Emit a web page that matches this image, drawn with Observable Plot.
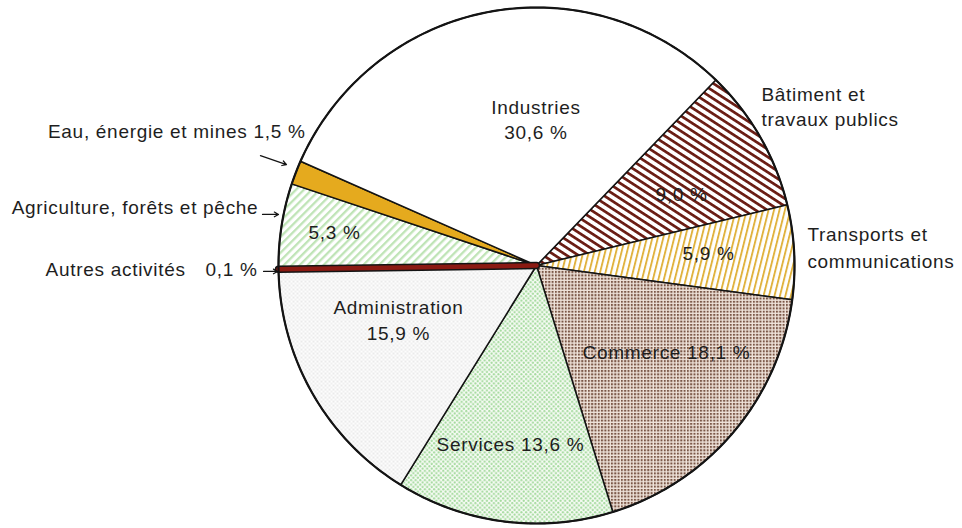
<!DOCTYPE html>
<html><head><meta charset="utf-8">
<script src="https://cdn.jsdelivr.net/npm/d3@7"></script>
<script src="https://cdn.jsdelivr.net/npm/@observablehq/plot@0.6"></script>
<style>
body{margin:0;background:#fff}
svg{display:block}
svg text{letter-spacing:0.7px}
</style>
</head><body><div id="chart"></div>
<script>
// ---- data ----
const sectors = ["Bâtiment et travaux publics","Transports et communications","Commerce","Services","Administration","Autres activités","Agriculture, forêts et pêche","Eau, énergie et mines","Industries"];
const shares = [9.0, 5.9, 18.1, 13.6, 15.9, 0.1, 5.3, 1.5, 30.6];
// ---- styles (fills per sector) ----
const fills = ["url(#p-bat)","url(#p-tra)","url(#p-com)","url(#p-ser)","url(#p-adm)","#8b1a12","url(#p-agr)","#e5aa1e","#ffffff"];
const startAngle = 44; // degrees clockwise from north

// ---- label layout (pie-radius units) ----
const labels = [
  {text:"Industries", x:-0.002, y:0.612, anchor:"middle"},
  {text:"30,6 %", x:-0.002, y:0.512, anchor:"middle"},
  {text:"Bâtiment et", x:0.872, y:0.663, anchor:"start"},
  {text:"travaux publics", x:0.872, y:0.566, anchor:"start"},
  {text:"Transports et", x:1.050, y:0.120, anchor:"start"},
  {text:"communications", x:1.050, y:0.012, anchor:"start"},
  {text:"9,0 %", x:0.562, y:0.275, anchor:"middle"},
  {text:"5,9 %", x:0.667, y:0.043, anchor:"middle"},
  {text:"Commerce 18,1 %", x:0.504, y:-0.337, anchor:"middle"},
  {text:"Services 13,6 %", x:-0.101, y:-0.694, anchor:"middle"},
  {text:"Administration", x:-0.535, y:-0.163, anchor:"middle"},
  {text:"15,9 %", x:-0.535, y:-0.267, anchor:"middle"},
  {text:"5,3 %", x:-0.783, y:0.128, anchor:"middle"},
  {text:"Eau, énergie et mines 1,5 %", x:-0.895, y:0.516, anchor:"end"},
  {text:"Agriculture, forêts et pêche", x:-1.078, y:0.225, anchor:"end"},
  {text:"Autres activités", x:-1.360, y:-0.016, anchor:"end"},
  {text:"0,1 %", x:-1.081, y:-0.016, anchor:"end"}
];
const pointers = [
  {x1:-1.070, y1:0.426, x2:-0.969, y2:0.391},
  {x1:-1.062, y1:0.198, x2:-1.000, y2:0.198},
  {x1:-1.058, y1:-0.023, x2:-1.004, y2:-0.023}
];

// ---- geometry from data ----
const total = d3.sum(shares);
const rad = a => a * Math.PI / 180;
let acc = startAngle;
const slices = shares.map((v, i) => {
  const a0 = acc, a1 = acc + v / total * 360; acc = a1;
  const pts = [{x:0, y:0}];
  const n = Math.max(2, Math.ceil((a1 - a0) / 0.5));
  for (let k = 0; k <= n; k++) {
    const a = rad(a0 + (a1 - a0) * k / n);
    pts.push({x: Math.sin(a), y: Math.cos(a)});
  }
  return {name: sectors[i], fill: fills[i], a0, a1, pts};
});
const circle = d3.range(0, 361, 1).map(a => ({x: Math.sin(rad(a)), y: Math.cos(rad(a))}));
const autres = slices[5];
const midA = rad((autres.a0 + autres.a1) / 2);
const autresRay = [{x:0, y:0}, {x: Math.sin(midA), y: Math.cos(midA)}];

const marks = [];
slices.forEach(s => {
  marks.push(Plot.line(s.pts, {x:"x", y:"y", curve:"linear-closed", fill:s.fill, stroke:"#141414", strokeWidth:1.5, strokeLinejoin:"round"}));
});
marks.push(Plot.line(autresRay, {x:"x", y:"y", stroke:"#141414", strokeWidth:7.5}));
marks.push(Plot.line(autresRay, {x:"x", y:"y", stroke:"#8b1a12", strokeWidth:4.5}));
marks.push(Plot.line(circle, {x:"x", y:"y", stroke:"#141414", strokeWidth:2.2, fill:"none"}));
marks.push(Plot.arrow(pointers, {x1:"x1", y1:"y1", x2:"x2", y2:"y2", stroke:"#141414", strokeWidth:1.2, headLength:6}));
["start","middle","end"].forEach(anchor => {
  marks.push(Plot.text(labels.filter(d => d.anchor === anchor), {x:"x", y:"y", text:"text", textAnchor:anchor, fontSize:19, fill:"#1e1e1e"}));
});

const svg = Plot.plot({
  width: 962, height: 528,
  marginLeft: 278, marginRight: 168, marginTop: 7, marginBottom: 5,
  x: {domain: [-1, 1], axis: null},
  y: {domain: [-1, 1], axis: null},
  style: {fontFamily: "'Liberation Sans', Arial, sans-serif", background: "#fff", overflow: "visible"},
  marks
});

// ---- patterns ----
const defs = d3.select(svg).insert("defs", ":first-child");
function pat(id, w, h, transform, draw) {
  const p = defs.append("pattern").attr("id", id).attr("patternUnits", "userSpaceOnUse")
    .attr("width", w).attr("height", h);
  if (transform) p.attr("patternTransform", transform);
  draw(p);
}
pat("p-bat", 10, 6.4, "rotate(33)", p => {
  p.append("rect").attr("width", 10).attr("height", 6.4).attr("fill", "#fff");
  p.append("rect").attr("width", 10).attr("height", 2.7).attr("fill", "#6a1c13");
});
pat("p-tra", 5.3, 10, "rotate(14)", p => {
  p.append("rect").attr("width", 5.3).attr("height", 10).attr("fill", "#fff");
  p.append("rect").attr("width", 1.9).attr("height", 10).attr("fill", "#e0b23e");
});
pat("p-com", 3.3, 3.3, null, p => {
  p.append("rect").attr("width", 3.3).attr("height", 3.3).attr("fill", "#efe3da");
  p.append("rect").attr("width", 2).attr("height", 2).attr("fill", "#7a5646");
});
pat("p-ser", 4.6, 4.6, null, p => {
  p.append("rect").attr("width", 4.6).attr("height", 4.6).attr("fill", "#f6fbf4");
  p.append("circle").attr("cx", 1.15).attr("cy", 1.15).attr("r", 1.1).attr("fill", "#a4da9d");
  p.append("circle").attr("cx", 3.45).attr("cy", 3.45).attr("r", 1.1).attr("fill", "#a4da9d");
});
pat("p-adm", 4, 4, null, p => {
  p.append("rect").attr("width", 4).attr("height", 4).attr("fill", "#fdfdfd");
  p.append("circle").attr("cx", 1).attr("cy", 1).attr("r", 0.85).attr("fill", "#d9d9d9");
  p.append("circle").attr("cx", 3).attr("cy", 3).attr("r", 0.85).attr("fill", "#e2e2e2");
});
pat("p-agr", 10, 5.6, "rotate(-45)", p => {
  p.append("rect").attr("width", 10).attr("height", 5.6).attr("fill", "#fff");
  p.append("rect").attr("width", 10).attr("height", 2.3).attr("fill", "#bfe4b6");
});

document.getElementById("chart").appendChild(svg);
</script>
</body></html>
